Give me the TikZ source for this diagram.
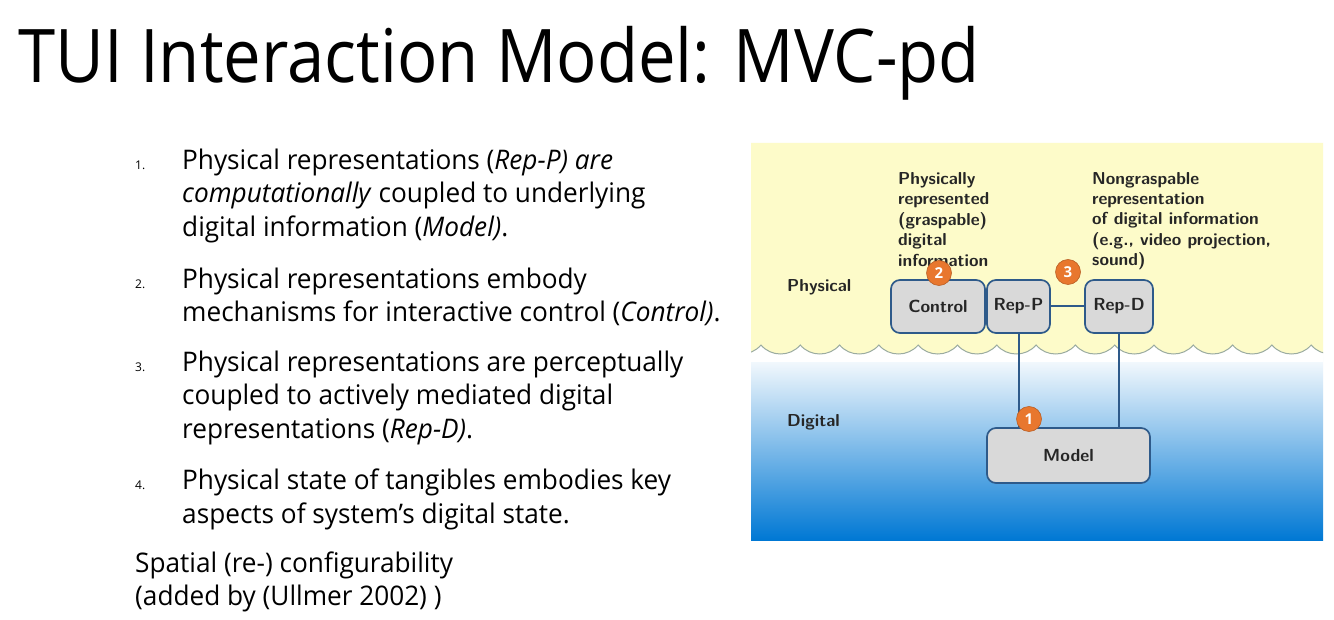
\documentclass[tikz,border=0pt]{standalone}
\usepackage{fontspec}
\setmainfont{Open Sans}
\newfontfamily\badgefont{Open Sans}
\definecolor{edgeblue}{HTML}{2E5A8A}
\definecolor{boxgray}{HTML}{D9D9D9}
\definecolor{paleyellow}{HTML}{FDFBC9}
\definecolor{deepblue}{HTML}{0078D4}
\definecolor{badgeorange}{HTML}{E8772E}
\definecolor{wavegray}{HTML}{9AABA0}
\newcommand{\ttl}[1]{\scalebox{0.906}[1]{#1}}
\newcommand{\lst}[1]{\scalebox{0.97}[1]{#1}}
\begin{document}
\begin{tikzpicture}[x=1pt,y=-1pt,
  titletext/.style={anchor=base west, inner sep=0pt, font=\fontsize{74}{80}\selectfont},
  listtext/.style={anchor=base west, inner sep=0pt, font=\fontsize{27}{33}\selectfont},
  listnum/.style={anchor=base west, inner sep=0pt, font=\fontsize{12}{14}\selectfont},
  dlabel/.style={anchor=base west, inner sep=0pt, font=\sffamily\bfseries\fontsize{17.3}{20}\selectfont, text=black!85},
  mvcbox/.style={draw=edgeblue, line width=1.7pt, fill=boxgray, rounded corners=9pt, inner sep=0pt, font=\sffamily\bfseries\fontsize{17.5}{20}\selectfont, text=black!85},
  badge/.style={circle, fill=badgeorange, draw=badgeorange!80!black, line width=0.6pt, minimum size=25pt, inner sep=0pt, text=white, font=\badgefont\bfseries\fontsize{15}{17}\selectfont},
  link/.style={draw=edgeblue, line width=2pt}
]
\useasboundingbox (0,0) rectangle (1334,620);
\fill[white] (0,0) rectangle (1334,620);

% title
\node[titletext] (title) at (18,83) {\ttl{TUI Interaction Model: MVC-pd}};

% list
\node[listnum] (n1) at (135,170) {1.};
\node[listtext] (l1a) at (182,170) {\lst{Physical representations (\textit{Rep-P) are}}};
\node[listtext] (l1b) at (182,203) {\lst{\textit{computationally} coupled to underlying}};
\node[listtext] (l1c) at (182,237) {\lst{digital information (\textit{Model)}.}};
\node[listnum] (n2) at (135,289) {2.};
\node[listtext] (l2a) at (182,289) {\lst{Physical representations embody}};
\node[listtext] (l2b) at (182,322) {\lst{mechanisms for interactive control (\textit{Control)}.}};
\node[listnum] (n3) at (135,372) {3.};
\node[listtext] (l3a) at (182,372) {\lst{Physical representations are perceptually}};
\node[listtext] (l3b) at (182,405) {\lst{coupled to actively mediated digital}};
\node[listtext] (l3c) at (182,438) {\lst{representations (\textit{Rep-D)}.}};
\node[listnum] (n4) at (135,489) {4.};
\node[listtext] (l4a) at (182,489) {\lst{Physical state of tangibles embodies key}};
\node[listtext] (l4b) at (182,523) {\lst{aspects of system’s digital state.}};
\node[listtext] (s1) at (135,572) {\lst{Spatial (re-) configurability}};
\node[listtext] (s2) at (135,605) {\lst{(added by (Ullmer 2002) )}};

% diagram background
\begin{scope}
\clip (751,143) rectangle (1323,540);
\shade[top color=white, bottom color=deepblue] (751,352) rectangle (1323,540);
\fill[white] (751,340) rectangle (1323,362);
\fill[paleyellow] (751,143) -- (1323,143) -- (1323,345)
  \foreach \k in {15,14,...,-1} { -- (761+39.3*\k+39.3,345) .. controls (761+39.3*\k+29,357) and (761+39.3*\k+10,357) .. (761+39.3*\k,345) } -- (751,345) -- cycle;
\draw[wavegray, line width=1pt] (721.7,345)
  \foreach \k in {-1,0,...,15} { .. controls (761+39.3*\k+10,357) and (761+39.3*\k+29,357) .. (761+39.3*\k+39.3,345) };
\end{scope}

% labels
\node[dlabel] (p1) at (898,185) {Physically};
\node[dlabel] (p2) at (898,205) {represented};
\node[dlabel] (p3) at (898,226) {(graspable)};
\node[dlabel] (p4) at (898,246) {digital};
\node[dlabel] (p5) at (898,267) {information};
\node[dlabel] (q1) at (1092,185) {Nongraspable};
\node[dlabel] (q2) at (1092,205) {representation};
\node[dlabel] (q3) at (1092,225) {of digital information};
\node[dlabel] (q4) at (1092,246) {(e.g., video projection,};
\node[dlabel] (q5) at (1092,266) {sound)};
\node[dlabel] (phys) at (787,292) {Physical};
\node[dlabel] (digi) at (787,426) {Digital};

% boxes
\node[mvcbox, minimum width=94pt, minimum height=53pt] (control) at (938,306.5) {Control};
\node[mvcbox, minimum width=63pt, minimum height=53pt] (repp) at (1018.5,306.5) {Rep-P};
\node[mvcbox, minimum width=68pt, minimum height=53pt] (repd) at (1119,306.5) {Rep-D};
\node[mvcbox, minimum width=163pt, minimum height=55pt] (model) at (1068.5,455.5) {Model};

% connectors
\draw[link] (repp.east) -- (repd.west);
\draw[link] (repp.south) -- (repp.south |- model.north);
\draw[link] (repd.south) -- (repd.south |- model.north);

% badges
\node[badge] (b2) at (939,273) {2};
\node[badge] (b3) at (1068,272) {3};
\node[badge] (b1) at (1029,419) {1};
\end{tikzpicture}
\end{document}
